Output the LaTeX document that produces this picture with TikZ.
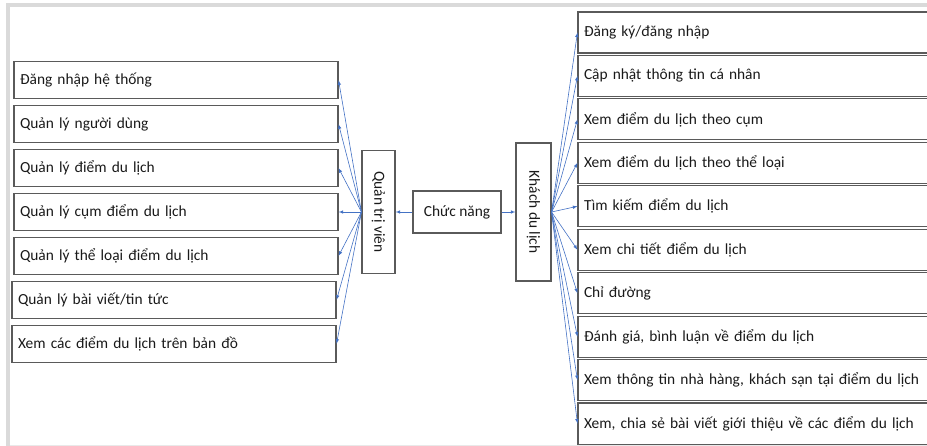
\documentclass[tikz,border=0pt]{standalone}
\usepackage{fontspec}
\setmainfont{Carlito}
\usetikzlibrary{arrows,positioning}

\definecolor{linkblue}{RGB}{68,114,196}
\definecolor{boxgray}{RGB}{90,90,90}
\definecolor{framegray}{RGB}{218,218,218}

\begin{document}
\begin{tikzpicture}[x=1pt, y=-1pt, -latex, node distance=43.9pt, on grid,
  font=\fontsize{15.4}{18}\selectfont, text=black!90,
  every edge/.append style={draw=linkblue, line width=0.6pt},
  box/.style={draw=boxgray, line width=1.1pt, inner sep=0pt},
  left item/.style={box, align=left, inner xsep=6pt, text width=312pt, minimum height=37pt},
  right item/.style={box, align=left, inner xsep=6pt, text width=345pt, minimum height=41pt},
  actor/.style={box, rotate=-90}]
\useasboundingbox (0,0) rectangle (927,446);

% page frame
\fill[framegray] (6,3) rectangle (927,7.5);
\fill[framegray] (6,3) rectangle (9.5,446);
\fill[framegray!60] (9.5,444.5) rectangle (927,446);

% centre and the two actors
\node[box, minimum width=88pt, minimum height=42pt] (F) at (457,212) {Chức năng};
\node[actor, minimum width=123pt, minimum height=33pt, left=78.5pt of F] (Q) {Quản trị viên};
\node[actor, minimum width=138pt, minimum height=35pt, right=76.5pt of F] (K) {Khách du lịch};

% admin functions
\node[left item, left=202.5pt of Q] (L4) {Quản lý cụm điểm du lịch};
\node[left item, above of=L4] (L3) {Quản lý điểm du lịch};
\node[left item, above of=L3] (L2) {Quản lý người dùng};
\node[left item, above of=L2] (L1) {Đăng nhập hệ thống};
\node[left item, below of=L4] (L5) {Quản lý thể loại điểm du lịch};
\node[left item, below of=L5, xshift=-2pt] (L6) {Quản lý bài viết/tin tức};
\node[left item, below of=L6] (L7) {Xem các điểm du lịch trên bản đồ};

% visitor functions
\node[right item] (R1) at (756.5,32.5) {Đăng ký/đăng nhập};
\node[right item, below=43.45pt of R1] (R2) {Cập nhật thông tin cá nhân};
\node[right item, below=43.45pt of R2] (R3) {Xem điểm du lịch theo cụm};
\node[right item, below=43.45pt of R3] (R4) {Xem điểm du lịch theo thể loại};
\node[right item, below=43.45pt of R4] (R5) {Tìm kiếm điểm du lịch};
\node[right item, below=43.45pt of R5] (R6) {Xem chi tiết điểm du lịch};
\node[right item, below=43.45pt of R6] (R7) {Chỉ đường};
\node[right item, below=43.45pt of R7] (R8) {Đánh giá, bình luận về điểm du lịch};
\node[right item, below=43.45pt of R8] (R9) {Xem thông tin nhà hàng, khách sạn tại điểm du lịch};
\node[right item, below=43.45pt of R9] (R10) {Xem, chia sẻ bài viết giới thiệu về các điểm du lịch};

\path (F) edge (Q);
\path (F) edge (K);

\path (Q.south) edge (L1.east);
\path (Q.south) edge (L2.east);
\path (Q.south) edge (L3.east);
\path (Q.south) edge (L4.east);
\path (Q.south) edge (L5.east);
\path (Q.south) edge (L6.east);
\path (Q.south) edge (L7.east);

\path (K.north) edge (R1.west);
\path (K.north) edge (R2.west);
\path (K.north) edge (R3.west);
\path (K.north) edge (R4.west);
\path (K.north) edge (R5.west);
\path (K.north) edge (R6.west);
\path (K.north) edge (R7.west);
\path (K.north) edge (R8.west);
\path (K.north) edge (R9.west);
\path (K.north) edge (R10.west);
\end{tikzpicture}
\end{document}
